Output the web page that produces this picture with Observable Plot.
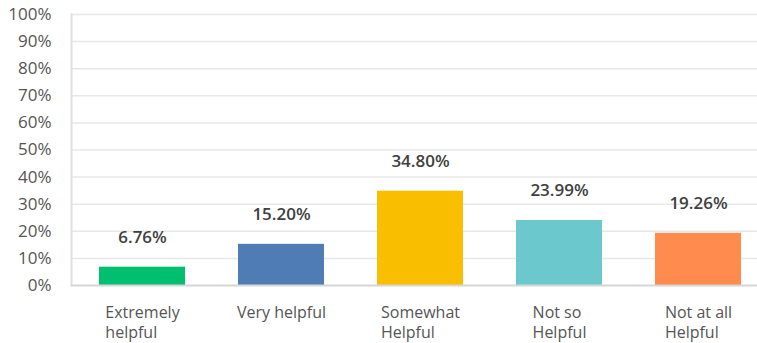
<!DOCTYPE html>
<html>
<head>
<meta charset="utf-8">
<script src="https://cdn.jsdelivr.net/npm/d3@7"></script>
<script src="https://cdn.jsdelivr.net/npm/@observablehq/plot@0.6"></script>
<style>
  html, body { margin: 0; padding: 0; background: #fff; }
  #chart svg { display: block; }
</style>
</head>
<body>
<div id="chart"></div>
<script>
const categories = ["Extremely\nhelpful", "Very helpful", "Somewhat\nHelpful", "Not so\nHelpful", "Not at all\nHelpful"];
const values = [6.76, 15.20, 34.80, 23.99, 19.26];
const colors = ["#00bf6f", "#507cb6", "#f9be00", "#6bc8cd", "#ff8b4f"];
const yTicks = [0, 10, 20, 30, 40, 50, 60, 70, 80, 90, 100];

const data = categories.map((c, i) => ({category: c, value: values[i], color: colors[i]}));

const FONT = "'Open Sans', sans-serif";
const LABEL_SIZE = 16;
const ctx = document.createElement("canvas").getContext("2d");
ctx.font = LABEL_SIZE + "px 'Open Sans'";
const blockWidth = (s) => Math.max(...s.split("\n").map(l => ctx.measureText(l).width));

const width = 757, height = 343;
const marginLeft = 71, marginTop = 14, marginBottom = 58;

const xLabelMarks = data.map(d => Plot.text([d], {
  x: "category", y: () => 0, text: "category",
  textAnchor: "start", lineAnchor: "top", dx: -blockWidth(d.category) / 2, dy: 18,
  fontSize: LABEL_SIZE, lineHeight: 1.25, fill: "#555", fontFamily: FONT
}));

const chart = Plot.plot({
  width, height, marginLeft, marginTop, marginBottom, marginRight: 0,
  style: {fontFamily: FONT, background: "#fff"},
  x: {domain: categories, range: [71, 769], paddingInner: 0.384, paddingOuter: 0.192, axis: null},
  y: {domain: [0, 100], range: [285, 14], axis: null},
  marks: [
    Plot.ruleY(yTicks.slice(1), {stroke: "#e8e8e8", strokeWidth: 1.5}),
    Plot.axisY({ticks: yTicks, tickSize: 0, tickPadding: 20, tickFormat: d => d + "%", label: null, fontSize: 17, fill: "#555", fontFamily: FONT}),
    Plot.frame({anchor: "left", stroke: "#e0e0e0", strokeWidth: 2}),
    Plot.barY(data, {x: "category", y: "value", fill: "color"}),
    Plot.ruleY([0], {stroke: "#d6d6d6", strokeWidth: 2}),
    Plot.text(data, {x: "category", y: "value", text: d => d.value.toFixed(2) + "%", dy: -30, fontSize: 17, fontWeight: 600, fill: "#404040", fontFamily: FONT}),
    ...xLabelMarks
  ]
});
document.getElementById("chart").appendChild(chart);
</script>
</body>
</html>
